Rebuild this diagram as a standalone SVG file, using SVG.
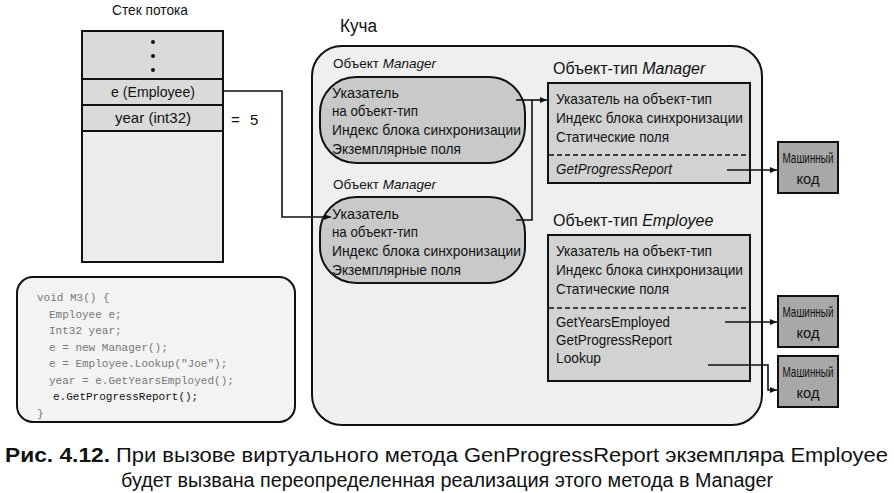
<svg xmlns="http://www.w3.org/2000/svg" width="894" height="493" viewBox="0 0 894 493">
<style>
text{font-family:"Liberation Sans","DejaVu Sans",sans-serif;fill:#111}
.t{font-size:15px}
.s{font-size:13.5px}
.it{font-style:italic}
.cap{font-size:19.5px}
.code{font-family:"Liberation Mono","DejaVu Sans Mono",monospace;font-size:11px;fill:#777}
.ln{fill:none;stroke:#111;stroke-width:1.6}
.box{stroke:#111;stroke-width:2}
</style>
<defs>
<marker id="ah" markerWidth="8" markerHeight="8" refX="7" refY="4" orient="auto" markerUnits="userSpaceOnUse">
<path d="M0,1 L7,4 L0,7 z" fill="#111"/>
</marker>
</defs>
<rect width="894" height="493" fill="#fff"/>

<g id="stack">
<text x="150" y="15" class="t" text-anchor="middle" textLength="76" lengthAdjust="spacingAndGlyphs">Стек потока</text>
<rect x="82" y="31" width="141" height="231" fill="#ececec" class="box"/>
<rect x="82" y="31" width="141" height="48" fill="#dadada" class="box"/>
<circle cx="153" cy="42" r="2" fill="#111"/>
<circle cx="153" cy="56" r="2" fill="#111"/>
<circle cx="153" cy="70" r="2" fill="#111"/>
<rect x="82" y="79" width="141" height="26" fill="#dadada" class="box"/>
<text x="153" y="97" class="t" text-anchor="middle" textLength="84" lengthAdjust="spacingAndGlyphs">e (Employee)</text>
<rect x="82" y="105" width="141" height="26" fill="#dadada" class="box"/>
<text x="153" y="123" class="t" text-anchor="middle" textLength="76" lengthAdjust="spacingAndGlyphs">year (int32)</text>
<text x="231" y="125" class="t">=</text>
<text x="250" y="125" class="t">5</text>
</g>

<g id="code">
<rect x="17" y="277" width="278" height="145" rx="16" fill="#f3f3f3" class="box"/>
<text class="code" x="37" y="301">void M3()  {</text>
<text class="code" x="49" y="317.5">Employee e;</text>
<text class="code" x="49" y="334">Int32 year;</text>
<text class="code" x="49" y="350.5">e = new Manager();</text>
<text class="code" x="49" y="367">e = Employee.Lookup("Joe");</text>
<text class="code" x="49" y="383.5">year = e.GetYearsEmployed();</text>
<text class="code" x="53" y="400" style="fill:#111">e.GetProgressReport();</text>
<text class="code" x="37" y="416.5">}</text>
</g>

<g id="heap">
<text x="340" y="32" style="font-size:18px" textLength="37" lengthAdjust="spacingAndGlyphs">Куча</text>
<rect x="312" y="46" width="450" height="379" rx="30" fill="#efefef" class="box"/>
</g>

<g id="manager-object-1">
<text x="333" y="68" class="s">Объект <tspan class="it">Manager</tspan></text>
<rect x="320" y="77" width="205" height="86" rx="36" fill="#c9c9c9" class="box"/>
<text x="332" y="98" class="t" textLength="67" lengthAdjust="spacingAndGlyphs">Указатель</text>
<text x="332" y="116" class="t" textLength="86" lengthAdjust="spacingAndGlyphs">на объект-тип</text>
<text x="332" y="135" class="t" textLength="189" lengthAdjust="spacingAndGlyphs">Индекс блока синхронизации</text>
<text x="332" y="154" class="t" textLength="129" lengthAdjust="spacingAndGlyphs">Экземплярные поля</text>
</g>

<g id="manager-object-2">
<text x="333" y="189" class="s">Объект <tspan class="it">Manager</tspan></text>
<rect x="320" y="197" width="205" height="86" rx="36" fill="#c9c9c9" class="box"/>
<text x="332" y="219" class="t" textLength="67" lengthAdjust="spacingAndGlyphs">Указатель</text>
<text x="332" y="237" class="t" textLength="86" lengthAdjust="spacingAndGlyphs">на объект-тип</text>
<text x="332" y="256" class="t" textLength="189" lengthAdjust="spacingAndGlyphs">Индекс блока синхронизации</text>
<text x="332" y="275" class="t" textLength="129" lengthAdjust="spacingAndGlyphs">Экземплярные поля</text>
</g>

<g id="manager-type">
<text x="553" y="74" style="font-size:16px">Объект-тип <tspan class="it">Manager</tspan></text>
<rect x="548" y="83" width="202" height="100" fill="#d2d2d2" class="box"/>
<text x="556" y="104" class="t" textLength="156" lengthAdjust="spacingAndGlyphs">Указатель на объект-тип</text>
<text x="556" y="123" class="t" textLength="187" lengthAdjust="spacingAndGlyphs">Индекс блока синхронизации</text>
<text x="556" y="142" class="t" textLength="113" lengthAdjust="spacingAndGlyphs">Статические поля</text>
<line x1="549" y1="155" x2="749" y2="155" stroke="#111" stroke-width="1.6" stroke-dasharray="5,3"/>
<text x="556" y="174" class="t it" textLength="116" lengthAdjust="spacingAndGlyphs">GetProgressReport</text>
</g>

<g id="employee-type">
<text x="553" y="226" style="font-size:16px">Объект-тип <tspan class="it">Employee</tspan></text>
<rect x="548" y="235" width="202" height="146" fill="#d2d2d2" class="box"/>
<text x="556" y="256" class="t" textLength="156" lengthAdjust="spacingAndGlyphs">Указатель на объект-тип</text>
<text x="556" y="275" class="t" textLength="187" lengthAdjust="spacingAndGlyphs">Индекс блока синхронизации</text>
<text x="556" y="294" class="t" textLength="113" lengthAdjust="spacingAndGlyphs">Статические поля</text>
<line x1="549" y1="308" x2="749" y2="308" stroke="#111" stroke-width="1.6" stroke-dasharray="5,3"/>
<text x="556" y="327" class="t" textLength="114" lengthAdjust="spacingAndGlyphs">GetYearsEmployed</text>
<text x="556" y="345" class="t" textLength="116" lengthAdjust="spacingAndGlyphs">GetProgressReport</text>
<text x="556" y="363" class="t" textLength="45" lengthAdjust="spacingAndGlyphs">Lookup</text>
</g>

<g id="code-1">
<rect x="778" y="142" width="60" height="51" fill="#a8a8a8" class="box"/>
<text x="808" y="163" class="t" text-anchor="middle" textLength="51" lengthAdjust="spacingAndGlyphs">Машинный</text>
<text x="808" y="184" class="t" text-anchor="middle" textLength="23" lengthAdjust="spacingAndGlyphs">код</text>
</g>
<g id="code-2">
<rect x="778" y="296" width="60" height="51" fill="#a8a8a8" class="box"/>
<text x="808" y="317" class="t" text-anchor="middle" textLength="51" lengthAdjust="spacingAndGlyphs">Машинный</text>
<text x="808" y="338" class="t" text-anchor="middle" textLength="23" lengthAdjust="spacingAndGlyphs">код</text>
</g>
<g id="code-3">
<rect x="778" y="356" width="60" height="51" fill="#a8a8a8" class="box"/>
<text x="808" y="377" class="t" text-anchor="middle" textLength="51" lengthAdjust="spacingAndGlyphs">Машинный</text>
<text x="808" y="398" class="t" text-anchor="middle" textLength="23" lengthAdjust="spacingAndGlyphs">код</text>
</g>

<g id="connectors">
<polyline class="ln" points="223,91 282,91 282,217 331,217" marker-end="url(#ah)"/>
<polyline class="ln" points="516,100 547,100" marker-end="url(#ah)"/>
<polyline class="ln" points="516,220 532,220 532,100"/>
<polyline class="ln" points="727,170 777,170" marker-end="url(#ah)"/>
<polyline class="ln" points="725,322 777,322" marker-end="url(#ah)"/>
<polyline class="ln" points="708,365 768,365 768,390 777,390" marker-end="url(#ah)"/>
</g>

<g id="caption">
<text x="5" y="462" class="cap" font-weight="bold" textLength="105" lengthAdjust="spacingAndGlyphs">Рис. 4.12.</text>
<text x="116" y="462" class="cap" textLength="772" lengthAdjust="spacingAndGlyphs">При вызове виртуального метода GenProgressReport экземпляра Employee</text>
<text x="447" y="487" class="cap" text-anchor="middle" textLength="652" lengthAdjust="spacingAndGlyphs">будет вызвана переопределенная реализация этого метода в Manager</text>
</g>
</svg>
